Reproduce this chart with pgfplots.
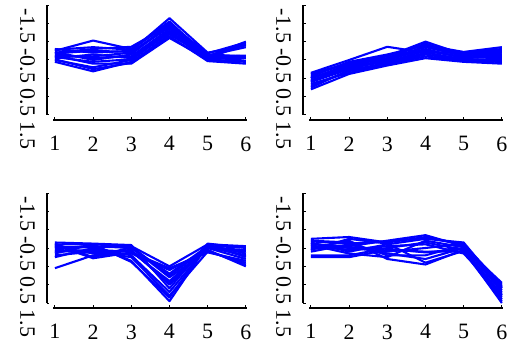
\documentclass[border=0pt]{standalone}
\usepackage{pgfplots}
\pgfplotsset{compat=1.18}
\usepackage{pgfplotstable}
\usepackage{fontspec}
\setmainfont{Liberation Serif}
\newfontfamily\tnr{Liberation Serif}

\pgfplotstableread{
x  l1    l2    l3    l4    l5    l6    l7    l8    l9    l10   l11   l12   l13   l14
1  0.25  0.20  0.10  0.00  0.30  0.15 -0.05  0.05  0.22  0.12  0.28  0.02  0.18  0.08
2  0.53  0.30  0.10 -0.20  0.20  0.05 -0.31  0.15  0.00 -0.10  0.35 -0.25  0.25 -0.05
3  0.30  0.36  0.20  0.00  0.25  0.10 -0.05  0.05  0.15 -0.10  0.28 -0.08  0.22  0.02
4  1.05  0.95  0.90  0.75  1.14  0.85  0.65  0.80  0.98  0.60  1.00  0.70  0.92  0.78
5  0.10  0.05  0.15  0.00  0.20  0.10 -0.03  0.05  0.18  0.02  0.12  0.08  0.06  0.00
6  0.50  0.45  0.10 -0.05  0.40  0.12 -0.10  0.05  0.48  0.08  0.35 -0.02  0.42  0.10
}\tableTL

\pgfplotstableread{
x  l1    l2    l3    l4    l5    l6    l7    l8    l9    l10   l11   l12   l13   l14
1 -0.35 -0.50 -0.80 -0.60 -0.45 -0.70 -0.40 -0.55 -0.65 -0.50 -0.75 -0.38 -0.58 -0.48
2  0.00 -0.15 -0.38 -0.25 -0.05 -0.30 -0.10 -0.20 -0.35 -0.12 -0.28 -0.08 -0.22 -0.18
3  0.36  0.05 -0.15  0.00  0.15 -0.10  0.10 -0.05 -0.12  0.05 -0.08  0.12  0.02 -0.02
4  0.20  0.45  0.05  0.30  0.40  0.15  0.50  0.25  0.10  0.35  0.20  0.42  0.28  0.38
5  0.20  0.10 -0.05  0.05  0.22  0.00  0.15  0.08 -0.03  0.12  0.02  0.18  0.06  0.10
6  0.30  0.20 -0.10  0.10  0.35  0.00  0.25  0.05 -0.05  0.15  0.00  0.28  0.12  0.22
}\tableTR

\pgfplotstableread{
x  l1    l2    l3    l4    l5    l6    l7    l8    l9    l10   l11   l12   l13   l14
1  0.10  0.00 -0.10 -0.55  0.15 -0.20  0.05 -0.05  0.12 -0.25  0.08 -0.15  0.02 -0.08
2  0.10  0.05 -0.05 -0.20  0.12 -0.10 -0.15  0.08 -0.25  0.00 -0.28  0.10  0.02 -0.12
3  0.05  0.00 -0.10 -0.15  0.08 -0.25 -0.05 -0.35  0.02 -0.20 -0.12 -0.38  0.04 -0.08
4 -0.50 -0.70 -0.90 -0.60 -1.10 -1.30 -1.00 -1.45 -0.80 -1.20 -0.55 -1.35 -0.75 -0.95
5  0.10  0.05  0.00 -0.05  0.12 -0.10  0.02  0.08 -0.08  0.05 -0.12  0.10  0.00  0.06
6  0.05 -0.10 -0.30 -0.50  0.00 -0.40 -0.20 -0.15 -0.45  0.02 -0.35 -0.25 -0.05 -0.22
}\tableBL

\pgfplotstableread{
x  l1    l2    l3    l4    l5    l6    l7    l8    l9    l10   l11   l12   l13   l14
1  0.25  0.10 -0.25  0.00  0.15 -0.10  0.05  0.20 -0.20  0.12 -0.05  0.08  0.18 -0.02
2  0.30  0.05 -0.25  0.20 -0.10  0.10 -0.05  0.15 -0.20  0.00  0.25 -0.15  0.12  0.02
3  0.15  0.20 -0.05 -0.30  0.10 -0.15  0.05 -0.20  0.00 -0.10  0.12 -0.25  0.18 -0.02
4  0.30  0.35 -0.10 -0.45  0.25 -0.30  0.10 -0.20  0.15  0.00 -0.40  0.20  0.28 -0.12
5  0.10  0.05 -0.10 -0.05  0.15  0.00 -0.15  0.08 -0.05  0.12 -0.08  0.02  0.10 -0.02
6 -1.00 -1.20 -1.45 -1.30 -1.10 -1.40 -1.25 -1.05 -1.50 -1.15 -1.35 -0.95 -1.08 -1.28
}\tableBR

\pgfplotsset{
  panel/.style={
    scale only axis, width=194bp, height=110bp,
    anchor=south west,
    xmin=0.95, xmax=6.03, ymin=-1.5, ymax=1.5,
    axis lines=left,
    axis line style={-, line width=2.4bp, black},
    axis x line shift=5bp,
    axis y line shift=6bp,
    xtick={1,2,3,4,5,6},
    ytick={-1.5,-1,-0.5,0,0.5,1,1.5},
    yticklabels={},
    major tick length=2.5bp,
    tick align=inside,
    tick style={line width=1bp, black},
    /pgf/number format/assume math mode=true,
    tick label style={font=\tnr\fontsize{22}{22}\selectfont},
    xticklabel style={yshift=-13bp},
    ylabel={-1.5 -0.5 0.5 1.5},
    ylabel style={font=\tnr\fontsize{22}{22}\selectfont, rotate=180,
      at={(axis description cs:-0.131,0.33)}, anchor=center},
    clip=false,
  },
  curve/.style={blue, line width=2.1bp, mark=none, solid, line join=round},
}

\begin{document}
\begin{tikzpicture}
\useasboundingbox (0,0) rectangle (529bp,350bp);
\begin{axis}[panel, at={(53bp,235bp)}]
\pgfplotsinvokeforeach{l1,l2,l3,l4,l5,l6,l7,l8,l9,l10,l11,l12,l13,l14}{\addplot[curve] table[x=x,y=#1]{\tableTL};}
\end{axis}
\begin{axis}[panel, at={(309bp,235bp)}]
\pgfplotsinvokeforeach{l1,l2,l3,l4,l5,l6,l7,l8,l9,l10,l11,l12,l13,l14}{\addplot[curve] table[x=x,y=#1]{\tableTR};}
\end{axis}
\begin{axis}[panel, at={(53bp,47bp)}]
\pgfplotsinvokeforeach{l1,l2,l3,l4,l5,l6,l7,l8,l9,l10,l11,l12,l13,l14}{\addplot[curve] table[x=x,y=#1]{\tableBL};}
\end{axis}
\begin{axis}[panel, at={(309bp,47bp)}]
\pgfplotsinvokeforeach{l1,l2,l3,l4,l5,l6,l7,l8,l9,l10,l11,l12,l13,l14}{\addplot[curve] table[x=x,y=#1]{\tableBR};}
\end{axis}
\end{tikzpicture}
\end{document}
